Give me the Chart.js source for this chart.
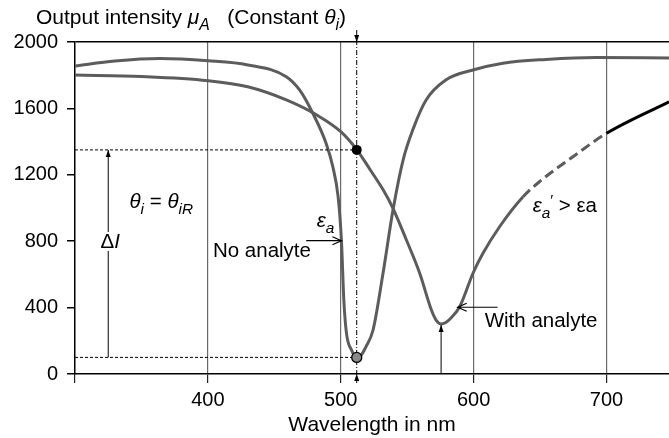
<!DOCTYPE html>
<html lang="en">
<head>
<meta charset="UTF-8">
<title>SPR output intensity</title>
<script src="https://cdn.jsdelivr.net/npm/chart.js"></script>
<style>
    html, body { margin: 0; padding: 0; background: #fff; }
    #wrap { width: 669px; height: 438px; position: relative; }
</style>
</head>
<body>
<div id="wrap"><canvas id="sprChart"></canvas></div>
<script>
    // wavelength (nm) and output intensity
    const noAnalyteX = [300, 330, 364, 400, 430, 459, 469, 479, 489, 494, 498, 500.5, 502.3, 504.3, 508, 512, 514.3, 519, 524.3, 531.8, 539.3, 546.9, 554.4, 564, 579, 599.5, 622, 654.5, 692, 747];
    const noAnalyteY = [1855, 1885, 1900, 1887, 1862, 1791, 1711, 1570, 1389, 1249, 1068, 803, 446, 245, 145, 100, 104, 165, 265, 607, 988, 1289, 1475, 1648, 1771, 1831, 1872, 1895, 1907, 1904];

    const withAnalyteX = [300, 350, 400, 430, 459, 482, 500, 512, 522, 532, 539.3, 549.4, 559.4, 568.2, 572, 575.5, 579, 582, 589.5, 599.5, 607, 619.5, 637, 649.6, 674.7, 700, 747];
    const withAnalyteY = [1801, 1792, 1767, 1730, 1651, 1560, 1460, 1352, 1232, 1108, 998, 807, 607, 386, 322, 301, 310, 330, 405, 607, 727, 887, 1066, 1159, 1309, 1450, 1640];

    const xTicks = [300, 400, 500, 600, 700];
    const yTicks = [0, 400, 800, 1200, 1600, 2000];

    const resonanceX = 512;        // constant theta_i marker
    const highLevel = 1350;
    const lowLevel = 100;
    const shiftedMinX = 575.5;
    const shiftedMinY = 301;
    const dashFrom = 637, dashTo = 700;

    const FONT = "'Liberation Sans', Arial, sans-serif";
    const CURVE = '#5c5c5c';

    function toPoints(xs, ys) {
        return xs.map((x, i) => ({ x: x, y: ys[i] }));
    }

    function setFont(ctx, p, size) {
        const fs = p.sub || p.sup ? size * 0.75 : size;
        ctx.font = (p.italic ? 'italic ' : '') + fs + 'px ' + FONT;
    }

    function drawRich(ctx, parts, x, y, size) {
        let cx = x;
        parts.forEach(p => {
            setFont(ctx, p, size);
            const dy = p.sub ? size * 0.28 : (p.sup ? -size * 0.35 : 0);
            ctx.fillText(p.t, cx, y + dy);
            cx += ctx.measureText(p.t).width;
        });
        return cx - x;
    }

    function richWidth(ctx, parts, size) {
        let w = 0;
        parts.forEach(p => {
            setFont(ctx, p, size);
            w += ctx.measureText(p.t).width;
        });
        return w;
    }

    function arrowHead(ctx, x1, y1, x2, y2, len, half, open) {
        const a = Math.atan2(y2 - y1, x2 - x1);
        const bx = x2 - len * Math.cos(a), by = y2 - len * Math.sin(a);
        const px = -Math.sin(a) * half, py = Math.cos(a) * half;
        ctx.beginPath();
        ctx.moveTo(bx + px, by + py);
        ctx.lineTo(x2, y2);
        ctx.lineTo(bx - px, by - py);
        if (open) {
            ctx.stroke();
        } else {
            ctx.closePath();
            ctx.fill();
        }
    }

    function arrow(ctx, x1, y1, x2, y2, open) {
        ctx.beginPath();
        ctx.moveTo(x1, y1);
        ctx.lineTo(x2, y2);
        ctx.stroke();
        arrowHead(ctx, x1, y1, x2, y2, open ? 9 : 7, open ? 4 : 2.5, open);
    }

    const annotations = {
        id: 'annotations',
        afterDatasetsDraw(chart) {
            const ctx = chart.ctx;
            const xs = chart.scales.x, ys = chart.scales.y;
            const area = chart.chartArea;
            const px = v => xs.getPixelForValue(v);
            const py = v => ys.getPixelForValue(v);

            ctx.save();
            ctx.strokeStyle = '#000';
            ctx.fillStyle = '#000';
            ctx.lineWidth = 1;

            // dotted reference levels
            ctx.setLineDash([3, 2]);
            [highLevel, lowLevel].forEach(v => {
                ctx.beginPath();
                ctx.moveTo(area.left, py(v));
                ctx.lineTo(px(resonanceX), py(v));
                ctx.stroke();
            });

            // constant theta_i line
            ctx.setLineDash([5, 2, 1, 2]);
            ctx.beginPath();
            ctx.moveTo(px(resonanceX), area.top - 12);
            ctx.lineTo(px(resonanceX), area.bottom + 9);
            ctx.stroke();
            ctx.setLineDash([]);
            arrowHead(ctx, px(resonanceX), area.top - 10, px(resonanceX), area.top, 7, 2.5, false);
            arrowHead(ctx, px(resonanceX), area.bottom + 9, px(resonanceX), area.bottom, 7, 2.5, false);

            // delta I arrow
            const dX = 325;
            arrow(ctx, px(dX), py(lowLevel), px(dX), py(highLevel), false);

            // shift arrow at the new minimum
            arrow(ctx, px(shiftedMinX), area.bottom, px(shiftedMinX), py(shiftedMinY) + 1, false);

            // epsilon_a arrow and with-analyte arrow
            ctx.lineWidth = 1.2;
            arrow(ctx, px(474), py(803), px(500.5), py(803), true);
            arrow(ctx, px(618), py(402), px(588), py(402), true);

            // markers
            ctx.beginPath();
            ctx.arc(px(resonanceX), py(highLevel), 5, 0, Math.PI * 2);
            ctx.fill();
            ctx.beginPath();
            ctx.arc(px(resonanceX), py(lowLevel), 5, 0, Math.PI * 2);
            ctx.fillStyle = '#8a8a8a';
            ctx.fill();
            ctx.lineWidth = 1.3;
            ctx.stroke();
            ctx.fillStyle = '#000';

            // texts
            const S = 20.5;
            ctx.textBaseline = 'alphabetic';
            ctx.textAlign = 'left';

            drawRich(ctx, [
                { t: 'Output intensity ' },
                { t: '\u03bc', italic: true },
                { t: 'A', italic: true, sub: true },
                { t: '   (Constant ' },
                { t: '\u03b8', italic: true },
                { t: 'i', italic: true, sub: true },
                { t: ')' }
            ], area.left - 39, area.top - 18, 21);

            drawRich(ctx, [
                { t: '\u03b8', italic: true },
                { t: 'i', italic: true, sub: true },
                { t: ' = ' },
                { t: '\u03b8', italic: true },
                { t: 'iR', italic: true, sub: true }
            ], px(341), py(1000), S);

            // delta I label on white
            const dParts = [{ t: '\u0394' }, { t: 'I', italic: true }];
            const dW = richWidth(ctx, dParts, S);
            ctx.fillStyle = '#fff';
            ctx.fillRect(px(dX) - dW / 2, py(759) - 16, dW + 3, 19);
            ctx.fillStyle = '#000';
            drawRich(ctx, dParts, px(dX) - dW / 2 + 2, py(759), S);

            drawRich(ctx, [
                { t: '\u03b5', italic: true },
                { t: 'a', italic: true, sub: true }
            ], px(482), py(886), S);

            drawRich(ctx, [{ t: 'No analyte' }], px(403.8), py(705), S);

            drawRich(ctx, [
                { t: '\u03b5', italic: true },
                { t: 'a', italic: true, sub: true },
                { t: '\u2032', sup: true },
                { t: ' > \u03b5a' }
            ], px(644.4), py(976), S);

            drawRich(ctx, [{ t: 'With analyte' }], px(608.3), py(283), S);

            ctx.restore();
        }
    };

    const ctx = document.getElementById('sprChart').getContext('2d');
    new Chart(ctx, {
        type: 'line',
        data: {
            datasets: [{
                label: 'No analyte',
                data: toPoints(noAnalyteX, noAnalyteY),
                borderColor: CURVE,
                borderWidth: 3,
                pointRadius: 0,
                cubicInterpolationMode: 'monotone',
                fill: false
            }, {
                label: 'With analyte',
                data: toPoints(withAnalyteX, withAnalyteY),
                borderColor: CURVE,
                borderWidth: 3,
                pointRadius: 0,
                cubicInterpolationMode: 'monotone',
                fill: false,
                segment: {
                    borderDash: c => (c.p0.parsed.x >= dashFrom && c.p1.parsed.x <= dashTo) ? [10, 5] : undefined,
                    borderColor: c => c.p0.parsed.x >= dashTo ? '#000' : undefined
                }
            }]
        },
        options: {
            responsive: true,
            maintainAspectRatio: false,
            animation: false,
            layout: { padding: { top: 42, left: 0, right: 0, bottom: 0 } },
            plugins: {
                legend: { display: false },
                tooltip: { enabled: false }
            },
            scales: {
                x: {
                    type: 'linear',
                    min: 300,
                    max: 747,
                    afterBuildTicks: s => { s.ticks = xTicks.map(v => ({ value: v })); },
                    afterFit: s => { s.height = 64; },
                    border: { color: '#000', width: 1.5 },
                    grid: {
                        color: c => c.tick && c.tick.value > 300 ? '#6a6a6a' : 'transparent',
                        lineWidth: 1.2,
                        tickColor: '#222',
                        tickLength: 9
                    },
                    ticks: {
                        color: '#000',
                        font: { family: FONT, size: 20 },
                        padding: 5,
                        callback: v => v === 300 ? '' : String(v)
                    },
                    title: {
                        display: true,
                        text: 'Wavelength in nm',
                        color: '#000',
                        font: { family: FONT, size: 21 },
                        padding: { top: 0, bottom: 0 }
                    }
                },
                y: {
                    min: 0,
                    max: 2000,
                    afterBuildTicks: s => { s.ticks = yTicks.map(v => ({ value: v })); },
                    afterFit: s => { s.width = 75; },
                    border: { color: '#000', width: 1.5 },
                    grid: {
                        color: c => c.tick && c.tick.value === 2000 ? '#000' : 'transparent',
                        lineWidth: 1.5,
                        tickColor: '#000',
                        tickLength: 8
                    },
                    ticks: {
                        color: '#000',
                        font: { family: FONT, size: 20 },
                        padding: 9,
                        callback: v => String(v)
                    }
                }
            }
        },
        plugins: [annotations]
    });
</script>
</body>
</html>
